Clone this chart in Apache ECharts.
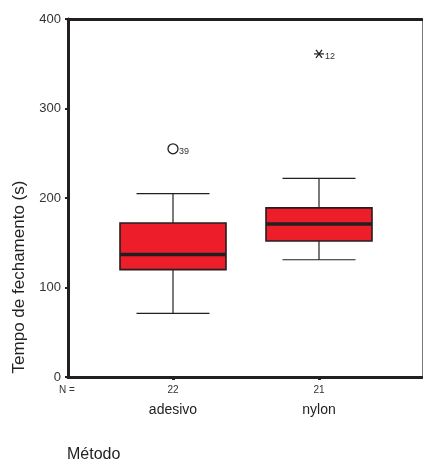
<!DOCTYPE html>
<html>
<head>
<meta charset="utf-8">
<script src="https://cdn.jsdelivr.net/npm/echarts@6/dist/echarts.min.js"></script>
<style>
html,body{margin:0;padding:0;background:#fff;}
#chart{width:423px;height:461px;}
</style>
</head>
<body>
<div id="chart"></div>
<script>
// ---- data ----
const categories = ['adesivo', 'nylon'];
const counts = [22, 21];
const lowWhisker = [71, 131];
const q1 = [120, 152];
const median = [137, 171];
const q3 = [172, 189];
const highWhisker = [205, 222];
// outliers: category index, value, case label, kind
const outlierCat = [0, 1];
const outlierValue = [255, 361];
const outlierLabel = ['39', '12'];
const outlierKind = ['circle', 'extreme'];
const yTicks = [0, 100, 200, 300, 400];

const FONT = 'Liberation Sans, Arial, sans-serif';
const DARK = '#231f20';

const boxData = categories.map((c, i) => [i + 1, lowWhisker[i], q1[i], median[i], q3[i], highWhisker[i]]);
const outData = outlierValue.map((v, k) => [outlierCat[k] + 1, v, outlierLabel[k], outlierKind[k]]);

const chart = echarts.init(document.getElementById('chart'), null, {renderer: 'canvas'});

const X_MIN = 0.2808, X_MAX = 2.7055;

chart.setOption({
  backgroundColor: '#fff',
  animation: false,
  grid: {left: 68, right: 1, top: 19, bottom: 84, containLabel: false},
  xAxis: [
    {
      type: 'value', min: X_MIN, max: X_MAX, position: 'bottom',
      splitLine: {show: false},
      axisLine: {show: true, onZero: false, lineStyle: {color: DARK, width: 3}},
      axisTick: {show: true, customValues: [1, 2], length: 3, inside: false, lineStyle: {color: DARK, width: 3}},
      axisLabel: {
        show: true, customValues: [1, 2], margin: 6,
        formatter: function (v) {
          const i = Math.round(v) - 1;
          return '{n|' + counts[i] + '}\n{c|' + categories[i] + '}';
        },
        rich: {
          n: {fontSize: 10, lineHeight: 14, color: '#333', fontFamily: FONT},
          c: {fontSize: 14, lineHeight: 26, color: '#222', fontFamily: FONT}
        }
      }
    },
    {
      type: 'value', min: X_MIN, max: X_MAX, position: 'top',
      splitLine: {show: false},
      axisLine: {show: true, onZero: false, lineStyle: {color: DARK, width: 3}},
      axisTick: {show: false}, axisLabel: {show: false}
    }
  ],
  yAxis: [
    {
      type: 'value', min: 0, max: 400, interval: 100, position: 'left',
      splitLine: {show: false},
      axisLine: {show: true, onZero: false, lineStyle: {color: DARK, width: 3}},
      axisTick: {show: true, length: 3, lineStyle: {color: DARK, width: 2}},
      axisLabel: {show: true, margin: 7, fontSize: 13, color: '#333', fontFamily: FONT,
        formatter: function (v) { return yTicks.indexOf(v) >= 0 ? String(v) : ''; }}
    },
    {
      type: 'value', min: 0, max: 400, position: 'right',
      splitLine: {show: false},
      axisLine: {show: true, onZero: false, lineStyle: {color: '#777', width: 1}},
      axisTick: {show: false}, axisLabel: {show: false}
    }
  ],
  graphic: [
    {type: 'text', x: 19, y: 277, rotation: Math.PI / 2,
      style: {text: 'Tempo de fechamento (s)', font: '17px ' + FONT, fill: '#222', align: 'center', verticalAlign: 'middle'}},
    {type: 'text', x: 67, y: 455,
      style: {text: 'Método', font: '16px ' + FONT, fill: '#222', align: 'left', verticalAlign: 'middle'}},
    {type: 'text', x: 59, y: 390,
      style: {text: 'N =', font: '10px ' + FONT, fill: '#333', align: 'left', verticalAlign: 'middle'}}
  ],
  series: [
    {
      type: 'custom', xAxisIndex: 0, yAxisIndex: 0, data: boxData, clip: false,
      renderItem: function (params, api) {
        const x = api.value(0);
        const pLow = api.coord([x, api.value(1)]);
        const pQ1 = api.coord([x, api.value(2)]);
        const pMed = api.coord([x, api.value(3)]);
        const pQ3 = api.coord([x, api.value(4)]);
        const pHigh = api.coord([x, api.value(5)]);
        const bw = api.size([0.726, 0])[0];
        const cw = api.size([0.5, 0])[0];
        const cx = pMed[0];
        const line = (x1, y1, x2, y2, w) => ({type: 'line', shape: {x1, y1, x2, y2}, style: {stroke: DARK, lineWidth: w}});
        return {type: 'group', children: [
          line(cx, pHigh[1], cx, pQ3[1], 1.2),
          line(cx, pQ1[1], cx, pLow[1], 1.2),
          line(cx - cw / 2, pHigh[1], cx + cw / 2, pHigh[1], 1.2),
          line(cx - cw / 2, pLow[1], cx + cw / 2, pLow[1], 1.2),
          {type: 'rect', shape: {x: cx - bw / 2, y: pQ3[1], width: bw, height: pQ1[1] - pQ3[1]},
            style: {fill: '#ee1d2a', stroke: DARK, lineWidth: 1.6}},
          line(cx - bw / 2, pMed[1], cx + bw / 2, pMed[1], 3.5)
        ]};
      }
    },
    {
      type: 'custom', xAxisIndex: 0, yAxisIndex: 0, data: outData, clip: false,
      renderItem: function (params, api) {
        const p = api.coord([api.value(0), api.value(1)]);
        const kind = outData[params.dataIndex][3];
        const lab = outData[params.dataIndex][2];
        const children = [];
        if (kind === 'circle') {
          children.push({type: 'circle', shape: {cx: p[0], cy: p[1], r: 5}, style: {fill: '#fff', stroke: DARK, lineWidth: 1.3}});
        } else {
          const l = (x1, y1, x2, y2) => ({type: 'line', shape: {x1: p[0] + x1, y1: p[1] + y1, x2: p[0] + x2, y2: p[1] + y2}, style: {stroke: DARK, lineWidth: 1.2}});
          children.push(l(-5, 0, 5, 0), l(-3, -4, 3, 4), l(3, -4, -3, 4));
        }
        children.push({type: 'text', x: p[0] + 6, y: p[1] + 3,
          style: {text: lab, font: '9px ' + FONT, fill: '#333', align: 'left', verticalAlign: 'middle'}});
        return {type: 'group', children};
      }
    }
  ]
});
</script>
</body>
</html>
